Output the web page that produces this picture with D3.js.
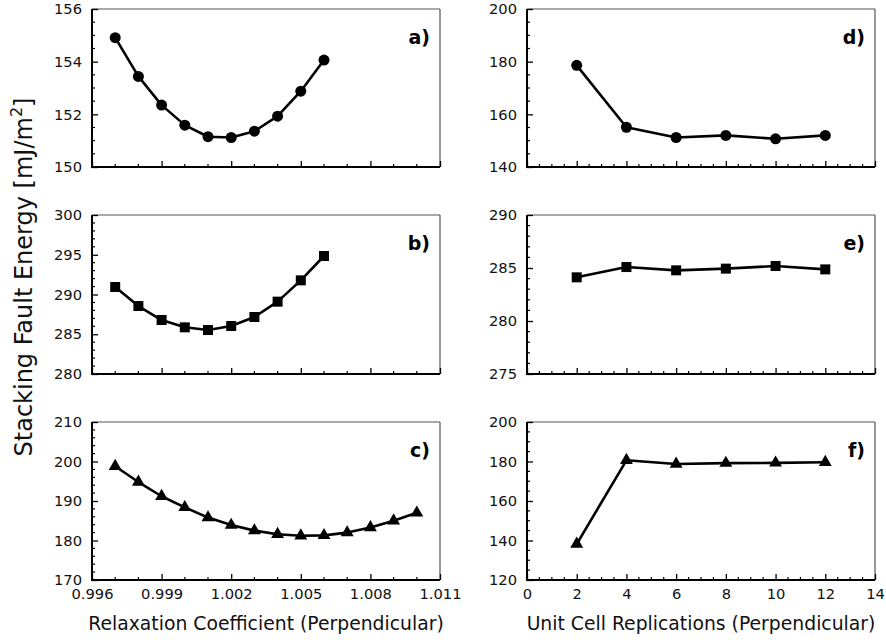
<!DOCTYPE html>
<html>
<head>
<meta charset="utf-8">
<script src="https://cdn.jsdelivr.net/npm/d3@7"></script>
<style>
  html, body { margin: 0; padding: 0; background: #fff; }
  svg { display: block; font-family: "DejaVu Sans", sans-serif; }
</style>
</head>
<body>
<svg id="chart" width="886" height="640"></svg>
<script>
// Relaxation coefficient sweep (left column)
const relaxAB = [0.997, 0.998, 0.999, 1.000, 1.001, 1.002, 1.003, 1.004, 1.005, 1.006];
const relaxC = [0.997, 0.998, 0.999, 1.000, 1.001, 1.002, 1.003, 1.004, 1.005, 1.006, 1.007, 1.008, 1.009, 1.010];
const sfeA = [154.91, 153.44, 152.35, 151.59, 151.15, 151.12, 151.36, 151.93, 152.88, 154.06];
const sfeB = [290.94, 288.55, 286.79, 285.87, 285.53, 286.04, 287.17, 289.10, 291.78, 294.84];
const sfeC = [198.8, 194.8, 191.2, 188.4, 185.8, 183.9, 182.5, 181.6, 181.2, 181.3, 182.0, 183.3, 185.0, 187.0];

// Unit cell replication sweep (right column)
const replications = [2, 4, 6, 8, 10, 12];
const sfeD = [178.6, 155.1, 151.2, 152.0, 150.7, 152.0];
const sfeE = [284.12, 285.09, 284.78, 284.94, 285.19, 284.87];
const sfeF = [138.2, 180.6, 178.7, 179.2, 179.3, 179.6];

// Axis tick values
const relaxTicks = [0.996, 0.999, 1.002, 1.005, 1.008, 1.011];
const replTicks = [0, 2, 4, 6, 8, 10, 12, 14];
const yTicksA = [150, 152, 154, 156];
const yTicksB = [280, 285, 290, 295, 300];
const yTicksC = [170, 180, 190, 200, 210];
const yTicksD = [140, 160, 180, 200];
const yTicksE = [275, 280, 285, 290];
const yTicksF = [120, 140, 160, 180, 200];

const panelLabels = ["a)", "b)", "c)", "d)", "e)", "f)"];

const svg = d3.select("#chart");

const cols = [{x0: 92, x1: 440}, {x0: 527, x1: 875}];
const rows = [{y0: 9, y1: 167}, {y0: 215, y1: 374}, {y0: 422, y1: 580}];

const tickFont = 14.7;

const panels = [
  {col: 0, row: 0, xs: relaxAB, ys: sfeA, xDom: [0.996, 1.011], xTicks: relaxTicks, xMinor: 0.001, yDom: [150, 156], yTicks: yTicksA, yMinor: 0.5, marker: "circle", label: panelLabels[0]},
  {col: 0, row: 1, xs: relaxAB, ys: sfeB, xDom: [0.996, 1.011], xTicks: relaxTicks, xMinor: 0.001, yDom: [280, 300], yTicks: yTicksB, yMinor: 1, marker: "square", label: panelLabels[1]},
  {col: 0, row: 2, xs: relaxC, ys: sfeC, xDom: [0.996, 1.011], xTicks: relaxTicks, xMinor: 0.001, yDom: [170, 210], yTicks: yTicksC, yMinor: 2, marker: "triangle", label: panelLabels[2], showX: true, xFmt: d3.format(".3f")},
  {col: 1, row: 0, xs: replications, ys: sfeD, xDom: [0, 14], xTicks: replTicks, xMinor: 0.5, yDom: [140, 200], yTicks: yTicksD, yMinor: 5, marker: "circle", label: panelLabels[3]},
  {col: 1, row: 1, xs: replications, ys: sfeE, xDom: [0, 14], xTicks: replTicks, xMinor: 0.5, yDom: [275, 290], yTicks: yTicksE, yMinor: 1, marker: "square", label: panelLabels[4]},
  {col: 1, row: 2, xs: replications, ys: sfeF, xDom: [0, 14], xTicks: replTicks, xMinor: 0.5, yDom: [120, 200], yTicks: yTicksF, yMinor: 5, marker: "triangle", label: panelLabels[5], showX: true, xFmt: d3.format("d")}
];

function minorValues(dom, step, majors) {
  const out = [];
  const n = Math.round((dom[1] - dom[0]) / step);
  for (let i = 0; i <= n; i++) {
    const v = dom[0] + i * step;
    if (!majors.some(m => Math.abs(m - v) < step * 1e-3)) out.push(v);
  }
  return out;
}

panels.forEach(p => {
  const c = cols[p.col], r = rows[p.row];
  const x = d3.scaleLinear().domain(p.xDom).range([c.x0, c.x1]);
  const y = d3.scaleLinear().domain(p.yDom).range([r.y1, r.y0]);
  const g = svg.append("g");

  // frame: top and right edges in grey
  g.append("line").attr("x1", c.x0).attr("x2", c.x1).attr("y1", r.y0).attr("y2", r.y0)
    .attr("stroke", "#555").attr("stroke-width", 1.2);
  g.append("line").attr("x1", c.x1).attr("x2", c.x1).attr("y1", r.y0).attr("y2", r.y1)
    .attr("stroke", "#555").attr("stroke-width", 1.2);

  // bottom axis with inward ticks
  const xAxis = d3.axisBottom(x).tickValues(p.xTicks).tickSizeInner(-6).tickSizeOuter(0).tickPadding(9)
    .tickFormat(p.showX ? p.xFmt : () => "");
  const xg = g.append("g").attr("transform", `translate(0,${r.y1})`).call(xAxis);
  xg.selectAll(".tick line").attr("stroke", "#000").attr("stroke-width", 1.3);
  xg.selectAll("text").attr("font-size", tickFont).attr("fill", "#111").attr("font-family", "DejaVu Sans");
  xg.select(".domain").remove();
  xg.selectAll(".minor").data(minorValues(p.xDom, p.xMinor, p.xTicks)).enter().append("line")
    .attr("x1", d => x(d)).attr("x2", d => x(d)).attr("y1", 0).attr("y2", -3)
    .attr("stroke", "#000").attr("stroke-width", 1.2);

  // left axis with inward ticks
  const yAxis = d3.axisLeft(y).tickValues(p.yTicks).tickSizeInner(-6).tickSizeOuter(0).tickPadding(10)
    .tickFormat(d3.format("d"));
  const yg = g.append("g").attr("transform", `translate(${c.x0},0)`).call(yAxis);
  yg.selectAll(".tick line").attr("stroke", "#000").attr("stroke-width", 1.3);
  yg.selectAll("text").attr("font-size", tickFont).attr("fill", "#111").attr("font-family", "DejaVu Sans");
  yg.select(".domain").remove();
  yg.selectAll(".minor").data(minorValues(p.yDom, p.yMinor, p.yTicks)).enter().append("line")
    .attr("x1", 0).attr("x2", 3).attr("y1", d => y(d)).attr("y2", d => y(d))
    .attr("stroke", "#000").attr("stroke-width", 1.2);

  // left and bottom spines in black
  g.append("line").attr("x1", c.x0).attr("x2", c.x1).attr("y1", r.y1).attr("y2", r.y1)
    .attr("stroke", "#000").attr("stroke-width", 2);
  g.append("line").attr("x1", c.x0).attr("x2", c.x0).attr("y1", r.y0).attr("y2", r.y1 + 1)
    .attr("stroke", "#000").attr("stroke-width", 2);

  // data line
  const pts = p.xs.map((xv, i) => [xv, p.ys[i]]);
  g.append("path").datum(pts)
    .attr("fill", "none").attr("stroke", "#000").attr("stroke-width", 2.6)
    .attr("stroke-linejoin", "round")
    .attr("d", d3.line().x(d => x(d[0])).y(d => y(d[1])));

  // markers
  const symType = p.marker === "circle" ? d3.symbolCircle : p.marker === "square" ? d3.symbolSquare : d3.symbolTriangle;
  const symSize = p.marker === "circle" ? 95 : p.marker === "square" ? 100 : 72;
  g.selectAll(".mk").data(pts).enter().append("path")
    .attr("transform", d => `translate(${x(d[0])},${y(d[1])})`)
    .attr("d", d3.symbol().type(symType).size(symSize))
    .attr("fill", "#000");

  // panel letter
  g.append("text").attr("x", c.x1 - 10).attr("y", r.y0 + 35)
    .attr("text-anchor", "end").attr("font-size", 19).attr("font-weight", "bold")
    .attr("fill", "#000").text(p.label);
});

// axis titles
svg.append("text").attr("x", (cols[0].x0 + cols[0].x1) / 2).attr("y", 630)
  .attr("text-anchor", "middle").attr("font-size", 18.8).attr("fill", "#111")
  .text("Relaxation Coefficient (Perpendicular)");
svg.append("text").attr("x", (cols[1].x0 + cols[1].x1) / 2).attr("y", 630)
  .attr("text-anchor", "middle").attr("font-size", 18.8).attr("fill", "#111")
  .text("Unit Cell Replications (Perpendicular)");

const yt = svg.append("text")
  .attr("transform", "translate(32,277) rotate(-90)")
  .attr("text-anchor", "middle").attr("font-size", 24).attr("fill", "#111");
yt.append("tspan").text("Stacking Fault Energy [mJ/m");
yt.append("tspan").attr("dy", -10).attr("font-size", 16).text("2");
yt.append("tspan").attr("dy", 10).text("]");
</script>
</body>
</html>
